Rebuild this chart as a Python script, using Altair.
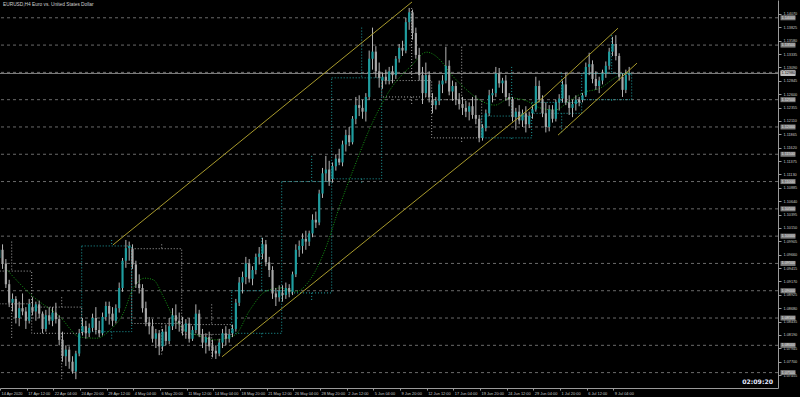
import altair as alt
import pandas as pd

# ---------------- data (8-hour candles, EURUSD) ----------------
opens = [
 1.0960,1.0975,1.0950,1.0912,1.0878,1.0885,1.0850,1.0868,1.0862,1.0845,
 1.0870,1.0862,1.0875,1.0858,1.0830,1.0855,1.0845,1.0860,1.0848,1.0810,1.0780,1.0792,1.0770,1.0752,1.0785,
 1.0825,1.0835,1.0822,1.0832,1.0850,1.0828,1.0822,1.0852,1.0872,1.0858,1.0845,1.0868,1.0905,1.0955,1.0978,
 1.0977,1.0948,1.0912,1.0905,1.0868,1.0842,1.0835,1.0812,1.0822,1.0798,1.0825,1.0808,1.0835,1.0855,1.0845,
 1.0838,1.0825,1.0840,1.0812,1.0828,1.0858,1.0820,1.0805,1.0815,1.0798,1.0790,1.0785,1.0805,1.0822,1.0812,
 1.0822,1.0830,1.0878,1.0915,1.0925,1.0950,1.0922,1.0938,1.0962,1.0968,1.0985,1.0952,1.0938,1.0895,1.0888,
 1.0896,1.0892,1.0905,1.0898,1.0930,1.0975,1.0982,1.0995,1.0990,1.1005,1.1030,1.1025,1.1078,1.1115,1.1122,
 1.1105,1.1128,1.1142,1.1135,1.1168,1.1185,1.1172,1.1215,1.1240,1.1235,1.1228,1.1255,1.1325,1.1338,1.1302,
 1.1285,1.1292,1.1285,1.1302,1.1295,1.1325,1.1345,1.1340,1.1392,1.1410,1.1372,1.1332,1.1295,1.1262,1.1295,
 1.1250,1.1240,1.1248,1.1278,1.1285,1.1312,1.1265,1.1275,1.1250,1.1242,1.1235,1.1228,1.1238,1.1222,1.1215,
 1.1180,1.1198,1.1225,1.1258,1.1262,1.1298,1.1280,1.1285,1.1255,1.1250,1.1218,1.1228,1.1212,1.1225,1.1205,
 1.1225,1.1232,1.1275,1.1250,1.1225,1.1200,1.1232,1.1215,1.1245,1.1252,1.1278,1.1245,1.1235,1.1242,1.1250,
 1.1250,1.1258,1.1310,1.1315,1.1288,1.1275,1.1285,1.1298,1.1312,1.1338,1.1352,1.1330,1.1292,1.1268,1.1295]
highs = [
 1.0990,1.0985,1.0958,1.0920,1.0895,1.0890,1.0880,1.0895,1.0870,1.0885,
 1.0888,1.0880,1.0882,1.0862,1.0865,1.0870,1.0870,1.0878,1.0855,1.0825,1.0800,1.0798,1.0780,1.0790,1.0830,
 1.0850,1.0845,1.0840,1.0858,1.0870,1.0845,1.0860,1.0880,1.0880,1.0870,1.0875,1.0915,1.0960,1.0993,1.0990,
 1.0985,1.0955,1.0930,1.0912,1.0880,1.0852,1.0848,1.0830,1.0828,1.0830,1.0838,1.0850,1.0868,1.0875,1.0860,
 1.0852,1.0848,1.0850,1.0835,1.0875,1.0865,1.0830,1.0822,1.0825,1.0810,1.0800,1.0812,1.0830,1.0835,1.0830,
 1.0838,1.0885,1.0925,1.0935,1.0962,1.0958,1.0945,1.0968,1.0980,1.0997,1.0993,1.0962,1.0945,1.0905,1.0910,
 1.0910,1.0915,1.0912,1.0935,1.0985,1.0992,1.1005,1.1010,1.1010,1.1040,1.1045,1.1085,1.1125,1.1147,1.1138,
 1.1135,1.1150,1.1160,1.1175,1.1195,1.1200,1.1220,1.1255,1.1258,1.1250,1.1262,1.1340,1.1382,1.1348,1.1318,
 1.1300,1.1305,1.1310,1.1312,1.1330,1.1352,1.1358,1.1400,1.1418,1.1415,1.1382,1.1345,1.1310,1.1318,1.1302,
 1.1262,1.1255,1.1285,1.1295,1.1347,1.1322,1.1285,1.1282,1.1262,1.1255,1.1248,1.1245,1.1255,1.1258,1.1222,
 1.1205,1.1232,1.1268,1.1270,1.1310,1.1308,1.1290,1.1295,1.1262,1.1255,1.1235,1.1240,1.1232,1.1238,1.1228,
 1.1240,1.1292,1.1285,1.1258,1.1245,1.1240,1.1240,1.1250,1.1260,1.1285,1.1299,1.1258,1.1250,1.1258,1.1255,
 1.1262,1.1318,1.1336,1.1322,1.1302,1.1292,1.1305,1.1320,1.1345,1.1365,1.1368,1.1335,1.1298,1.1305,1.1310]
lows = [
 1.0945,1.0940,1.0905,1.0870,1.0862,1.0840,1.0835,1.0855,1.0830,1.0840,
 1.0855,1.0845,1.0850,1.0822,1.0825,1.0838,1.0835,1.0840,1.0800,1.0770,1.0762,1.0757,1.0748,1.0738,1.0780,
 1.0818,1.0812,1.0815,1.0825,1.0820,1.0815,1.0818,1.0845,1.0838,1.0835,1.0840,1.0860,1.0898,1.0942,1.0955,
 1.0940,1.0905,1.0895,1.0860,1.0835,1.0820,1.0805,1.0795,1.0782,1.0790,1.0800,1.0802,1.0828,1.0830,1.0825,
 1.0818,1.0812,1.0805,1.0808,1.0822,1.0815,1.0795,1.0785,1.0790,1.0778,1.0775,1.0780,1.0795,1.0800,1.0805,
 1.0815,1.0825,1.0872,1.0895,1.0912,1.0915,1.0910,1.0930,1.0948,1.0958,1.0945,1.0925,1.0885,1.0872,1.0880,
 1.0880,1.0885,1.0888,1.0892,1.0925,1.0962,1.0968,1.0975,1.0982,1.0998,1.1015,1.1020,1.1070,1.1100,1.1092,
 1.1098,1.1120,1.1130,1.1128,1.1155,1.1165,1.1168,1.1205,1.1220,1.1215,1.1210,1.1250,1.1305,1.1290,1.1272,
 1.1270,1.1278,1.1278,1.1280,1.1288,1.1318,1.1330,1.1335,1.1378,1.1360,1.1325,1.1285,1.1242,1.1255,1.1245,
 1.1225,1.1232,1.1240,1.1262,1.1280,1.1258,1.1248,1.1240,1.1232,1.1222,1.1218,1.1212,1.1215,1.1205,1.1172,
 1.1175,1.1192,1.1220,1.1245,1.1255,1.1272,1.1262,1.1248,1.1238,1.1210,1.1195,1.1205,1.1200,1.1190,1.1198,
 1.1215,1.1228,1.1245,1.1218,1.1190,1.1192,1.1208,1.1210,1.1230,1.1245,1.1240,1.1222,1.1218,1.1230,1.1238,
 1.1245,1.1255,1.1295,1.1280,1.1268,1.1262,1.1278,1.1290,1.1305,1.1330,1.1322,1.1285,1.1255,1.1262,1.1285]
closes = [
 1.0975,1.0950,1.0912,1.0878,1.0885,1.0850,1.0868,1.0862,1.0845,1.0876,
 1.0862,1.0875,1.0858,1.0830,1.0855,1.0845,1.0860,1.0848,1.0810,1.0780,1.0792,1.0770,1.0752,1.0785,1.0822,
 1.0835,1.0822,1.0832,1.0850,1.0828,1.0822,1.0852,1.0872,1.0858,1.0845,1.0868,1.0905,1.0955,1.0978,1.0982,
 1.0948,1.0912,1.0905,1.0868,1.0842,1.0835,1.0812,1.0822,1.0798,1.0825,1.0808,1.0835,1.0855,1.0845,1.0840,
 1.0825,1.0840,1.0812,1.0828,1.0858,1.0820,1.0805,1.0815,1.0798,1.0790,1.0785,1.0805,1.0822,1.0812,1.0820,
 1.0830,1.0878,1.0915,1.0925,1.0950,1.0922,1.0938,1.0962,1.0968,1.0985,1.0952,1.0938,1.0895,1.0888,1.0900,
 1.0892,1.0905,1.0898,1.0930,1.0975,1.0982,1.0995,1.0990,1.1005,1.1030,1.1025,1.1078,1.1115,1.1122,1.1100,
 1.1128,1.1142,1.1135,1.1168,1.1185,1.1172,1.1215,1.1240,1.1235,1.1228,1.1255,1.1325,1.1338,1.1302,1.1290,
 1.1292,1.1285,1.1302,1.1295,1.1325,1.1345,1.1340,1.1392,1.1410,1.1372,1.1332,1.1295,1.1262,1.1295,1.1255,
 1.1240,1.1248,1.1278,1.1285,1.1312,1.1265,1.1275,1.1250,1.1242,1.1235,1.1228,1.1238,1.1222,1.1215,1.1180,
 1.1198,1.1225,1.1258,1.1262,1.1298,1.1280,1.1285,1.1255,1.1250,1.1218,1.1228,1.1212,1.1225,1.1205,1.1220,
 1.1232,1.1275,1.1250,1.1225,1.1200,1.1232,1.1215,1.1245,1.1252,1.1278,1.1245,1.1235,1.1242,1.1250,1.1245,
 1.1258,1.1310,1.1315,1.1288,1.1275,1.1285,1.1298,1.1312,1.1338,1.1352,1.1330,1.1292,1.1268,1.1295,1.1298]

# weekly candles drawn as dotted boxes (H4 bar index of week start)
wk_start = [-30, 0, 30, 60, 90, 120, 150, 180, 210, 240, 270, 300, 330]
wk_open  = [1.0936,1.0870,1.0825,1.0977,1.0838,1.0822,1.0896,1.1105,1.1285,1.1250,1.1180,1.1225,1.1250]
wk_high  = [1.0990,1.0888,1.0993,1.0985,1.0875,1.0997,1.1147,1.1382,1.1418,1.1347,1.1310,1.1299,1.1368]
wk_low   = [1.0812,1.0738,1.0812,1.0782,1.0775,1.0815,1.0880,1.1098,1.1242,1.1172,1.1175,1.1190,1.1245]
wk_close = [1.0876,1.0822,1.0982,1.0840,1.0820,1.0900,1.1100,1.1290,1.1255,1.1180,1.1220,1.1245,1.1298]

# moving average
ma_bar = [-16,1,17,29,39,47,55,61,68,73,79,85,93,99,110,122,131,140,149,158,167,176,185,194,203,215,
          228,237,245,251,261,269,278,287,296,305,314,323,332,341,350,359]
ma_price = [1.0942,1.0889,1.0852,1.0815,1.0813,1.0828,1.0859,1.0905,1.0923,1.0920,1.0889,1.0852,1.0825,
            1.0819,1.0810,1.0819,1.0865,1.0898,1.0905,1.0898,1.0920,1.0975,1.1057,1.1130,1.1198,1.1268,
            1.1313,1.1337,1.1323,1.1299,1.1268,1.1249,1.1240,1.1253,1.1249,1.1235,1.1231,1.1249,1.1264,
            1.1271,1.1290,1.1301]

# trend channel lines (bar index / price end points)
ch_b1 = [48.8, 114.2, 305.0, 315.8]
ch_p1 = [1.0984, 1.0779, 1.1249, 1.1185]
ch_b2 = [228.2, 305.0, 351.8, 363.2]
ch_p2 = [1.1429, 1.1249, 1.1381, 1.1317]

# horizontal round-number levels
levels = [1.1400,1.1350,1.1300,1.1250,1.1200,1.1150,1.1100,1.1050,1.1000,1.0950,1.0900,1.0850,1.0800,1.0750]
level_labels = ["1.14000","1.13500","1.13000","1.12500","1.12000","1.11500","1.11000","1.10500",
                "1.10000","1.09500","1.09000","1.08500","1.08000","1.07500"]
bid = 1.1298
bid_label = "1.12980"

x_ticks = [-19,-3,13,29,45,61,77,93,109,125,141,157,173,189,205,221,237,253,269,285,301,317,333,349]
x_labels = ["14 Apr 2020","17 Apr 12:00","22 Apr 04:00","24 Apr 20:00","29 Apr 12:00","4 May 04:00",
            "6 May 20:00","11 May 12:00","14 May 04:00","18 May 20:00","21 May 12:00","26 May 04:00",
            "28 May 20:00","2 Jun 12:00","5 Jun 04:00","9 Jun 20:00","12 Jun 12:00","17 Jun 04:00",
            "19 Jun 20:00","24 Jun 12:00","29 Jun 04:00","1 Jul 20:00","6 Jul 12:00","9 Jul 04:00"]
y_ticks = [1.14070,1.13825,1.13580,1.13335,1.13090,1.12845,1.12600,1.12355,1.12110,1.11865,1.11620,
           1.11375,1.11130,1.10885,1.10640,1.10395,1.10150,1.09905,1.09660,1.09415,1.09170,1.08925,
           1.08680,1.08435,1.08190,1.07945,1.07700,1.07455]

title_text = "EURUSD,H4  Euro vs. United States Dollar"
timer_text = "02:09:20"

# ---------------- frames ----------------
bars = [-20 + 2 * i for i in range(len(opens))]
cdf = pd.DataFrame({"bar": bars, "open": opens, "high": highs, "low": lows, "close": closes})
cdf["mid"] = cdf["bar"] + 0.5
cdf["bx1"] = cdf["mid"] - 0.65
cdf["bx2"] = cdf["mid"] + 0.65
cdf["dir"] = ["up" if c >= o else "down" for o, c in zip(opens, closes)]

wdf = pd.DataFrame({"start": wk_start, "open": wk_open, "high": wk_high, "low": wk_low, "close": wk_close})
wdf["end"] = wdf["start"] + 30
wdf["wx"] = wdf["start"] + 18
wdf["top"] = wdf[["open", "close"]].max(axis=1)
wdf["bot"] = wdf[["open", "close"]].min(axis=1)
wdf["dir"] = ["up" if c >= o else "down" for o, c in zip(wk_open, wk_close)]

madf = pd.DataFrame({"bar": ma_bar, "price": ma_price})
chdf = pd.DataFrame({"b1": ch_b1, "p1": ch_p1, "b2": ch_b2, "p2": ch_p2})
lvdf = pd.DataFrame({"lvl": levels, "lbl": level_labels})
biddf = pd.DataFrame({"lvl": [bid], "lbl": [bid_label]})

FONT = "Liberation Sans"
xs = alt.Scale(domain=[-19.02, 447.8], nice=False, zero=False)
ys = alt.Scale(domain=[1.07218, 1.14326], nice=False, zero=False)

label_expr = "[" + ",".join("'%s'" % s for s in x_labels) + "][indexof([" + \
    ",".join(str(v) for v in x_ticks) + "], datum.value)]"

x_axis = alt.Axis(values=x_ticks, labelExpr=label_expr, labelAlign="left", labelOffset=1,
                  labelFontSize=3.9, labelFont=FONT, labelColor="#c8c8c8", tickSize=2,
                  tickColor="#9a9a9a", domainColor="#9a9a9a", labelPadding=1, title=None,
                  grid=False, labelOverlap=False, labelFlush=False, labelBound=False)
y_axis = alt.Axis(orient="right", values=y_ticks, format=".5f", labelFontSize=3.8, labelFont=FONT,
                  labelColor="#c8c8c8", tickSize=3, tickColor="#9a9a9a", domainColor="#9a9a9a",
                  labelPadding=2, title=None, grid=False, labelOverlap=False, labelFlush=False,
                  labelBound=False, labelBaseline="middle")


def X(field):
    return alt.X(field, scale=xs, axis=x_axis)


def Y(field):
    return alt.Y(field, scale=ys, axis=y_axis)


lvl_lines = alt.Chart(lvdf).mark_rule(color="#6a6a6a", strokeDash=[3, 3], strokeWidth=1).encode(
    y=Y("lvl:Q"))
bid_line = alt.Chart(biddf).mark_rule(color="#7e7e7e", strokeWidth=1).encode(y=Y("lvl:Q"))

wk_col = alt.Scale(domain=["up", "down"], range=["#1e9ea0", "#a8a8a8"])
wk_box = alt.Chart(wdf).mark_rect(fillOpacity=0, strokeDash=[1, 2], strokeWidth=1, clip=True).encode(
    x=X("start:Q"), x2="end:Q", y=Y("open:Q"), y2="close:Q",
    stroke=alt.Stroke("dir:N", scale=wk_col, legend=None))
wk_up = alt.Chart(wdf).mark_rule(strokeDash=[1, 2], strokeWidth=1, clip=True).encode(
    x=X("wx:Q"), y=Y("high:Q"), y2="top:Q",
    color=alt.Color("dir:N", scale=wk_col, legend=None))
wk_dn = alt.Chart(wdf).mark_rule(strokeDash=[1, 2], strokeWidth=1, clip=True).encode(
    x=X("wx:Q"), y=Y("bot:Q"), y2="low:Q",
    color=alt.Color("dir:N", scale=wk_col, legend=None))

ma_line = alt.Chart(madf).mark_line(color="#169816", strokeDash=[1, 1.5], strokeWidth=1,
                                    interpolate="monotone", clip=True).encode(
    x=X("bar:Q"), y=Y("price:Q"))

wicks = alt.Chart(cdf).mark_rule(color="#b4b4b4", strokeWidth=1, clip=True).encode(
    x=X("mid:Q"), y=Y("low:Q"), y2="high:Q")
bodies = alt.Chart(cdf).mark_rect(clip=True).encode(
    x=X("bx1:Q"), x2="bx2:Q", y=Y("open:Q"), y2="close:Q",
    color=alt.Color("dir:N", scale=alt.Scale(domain=["up", "down"], range=["#22c3c6", "#f2f2f2"]),
                    legend=None))

channels = alt.Chart(chdf).mark_rule(color="#a89a2c", strokeWidth=1, clip=True).encode(
    x=X("b1:Q"), x2="b2:Q", y=Y("p1:Q"), y2="p2:Q")

lvl_box = alt.Chart(lvdf).mark_tick(orient="horizontal", size=15, thickness=5, color="#7c7c7c",
                                    opacity=1).encode(x=alt.value(788), y=Y("lvl:Q"))
lvl_txt = alt.Chart(lvdf).mark_text(align="left", baseline="middle", fontSize=3.8, font=FONT,
                                    color="#e2e2e2").encode(
    x=alt.value(781.5), y=Y("lvl:Q"), text="lbl:N")
bid_box = alt.Chart(biddf).mark_tick(orient="horizontal", size=15, thickness=5, color="#bdbdbd",
                                     opacity=1).encode(x=alt.value(788), y=Y("lvl:Q"))
bid_txt = alt.Chart(biddf).mark_text(align="left", baseline="middle", fontSize=3.8, font=FONT,
                                     color="#111111").encode(
    x=alt.value(781.5), y=Y("lvl:Q"), text="lbl:N")

title = alt.Chart(pd.DataFrame({"t": [title_text]})).mark_text(
    align="left", baseline="middle", fontSize=4.8, font=FONT, color="#d0d0d0").encode(
    x=alt.value(3), y=alt.value(5), text="t:N")
timer = alt.Chart(pd.DataFrame({"t": [timer_text]})).mark_text(
    align="right", baseline="middle", fontSize=6.2, font="DejaVu Sans", fontWeight="bold",
    color="#e4eaff").encode(x=alt.value(773), y=alt.value(382), text="t:N")

chart = alt.layer(lvl_lines, bid_line, wk_box, wk_up, wk_dn, ma_line, wicks, bodies, channels,
                  lvl_box, lvl_txt, bid_box, bid_txt, title, timer).properties(
    width=778, height=388,
    autosize=alt.AutoSizeParams(type="none"),
    padding={"left": 0, "top": 0, "right": 22, "bottom": 9},
    background="#000000",
).configure_view(stroke=None, fill="#000000")

chart.save("out.html", embed_options={"renderer": "svg", "actions": False})
